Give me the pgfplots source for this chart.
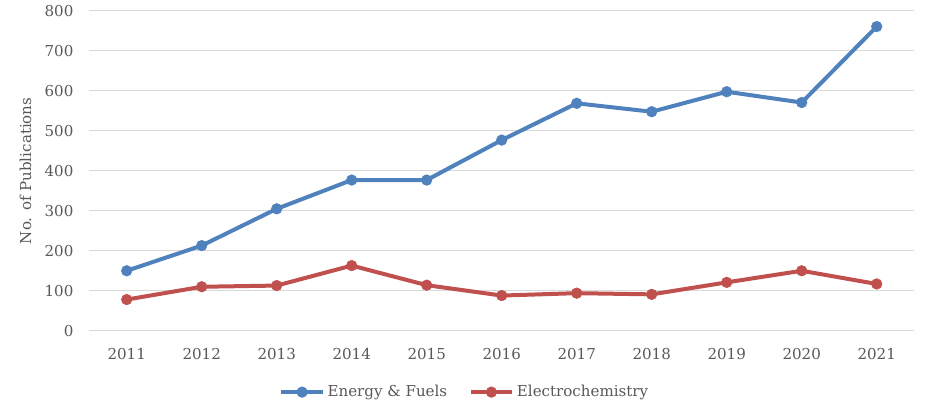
\documentclass[border=0pt]{standalone}
\usepackage{pgfplots}
\pgfplotsset{compat=1.18}
\usepackage{fontspec}
\setmainfont{DejaVu Serif}
\definecolor{txt}{HTML}{595959}
\definecolor{gridc}{HTML}{D9D9D9}
\definecolor{blueS}{HTML}{4F81BD}
\definecolor{redS}{HTML}{C0504D}
\begin{document}
\fontsize{11pt}{13pt}\selectfont
\begin{tikzpicture}
\path[use as bounding box] (-66.9pt,-58.7pt) rectangle ++(697.5pt,306.75pt);
\begin{axis}[
  scale only axis,
  width=618.75pt, height=239.8pt,
  xmin=-0.5, xmax=10.5, ymin=0, ymax=800,
  xtick={0,...,10},
  xticklabels={2011,2012,2013,2014,2015,2016,2017,2018,2019,2020,2021},
  ytick={0,100,...,800},
  axis line style={draw=none},
  major tick length=0pt,
  ymajorgrids, grid style={gridc, line width=0.75pt},
  tick label style={txt, font=\fontsize{11.3pt}{13pt}\selectfont},
  /pgf/number format/assume math mode=true,
  yticklabel style={xshift=-8pt},
  xticklabel style={yshift=-9pt},
  ylabel={No. of Publications},
  ylabel style={txt, font=\fontsize{11.3pt}{13pt}\selectfont, yshift=2.5pt},
  legend columns=2,
  legend style={at={(0.4555,-0.192)}, anchor=center, draw=none, fill=none,
    text=txt, font=\fontsize{11.3pt}{13pt}\selectfont,
    /tikz/every even column/.append style={column sep=14pt}},
  legend cell align=left,
  legend image code/.code={\draw[mark repeat=2,mark phase=2,#1] plot coordinates {(0cm,0cm) (0.55cm,0cm) (1.1cm,0cm)};},
]
\addplot[blueS, line width=3pt, mark=*, mark size=4pt, mark options={solid, line width=0.4pt}] coordinates {
(0,150) (1,213) (2,305) (3,377) (4,377) (5,477) (6,569) (7,548) (8,598) (9,571) (10,761)};
\addlegendentry{Energy \& Fuels}
\addplot[redS, line width=3pt, mark=*, mark size=4pt, mark options={solid, line width=0.4pt}] coordinates {
(0,78) (1,110) (2,113) (3,163) (4,114) (5,88) (6,94) (7,91) (8,121) (9,150) (10,117)};
\addlegendentry{Electrochemistry}
\end{axis}
\end{tikzpicture}
\end{document}
